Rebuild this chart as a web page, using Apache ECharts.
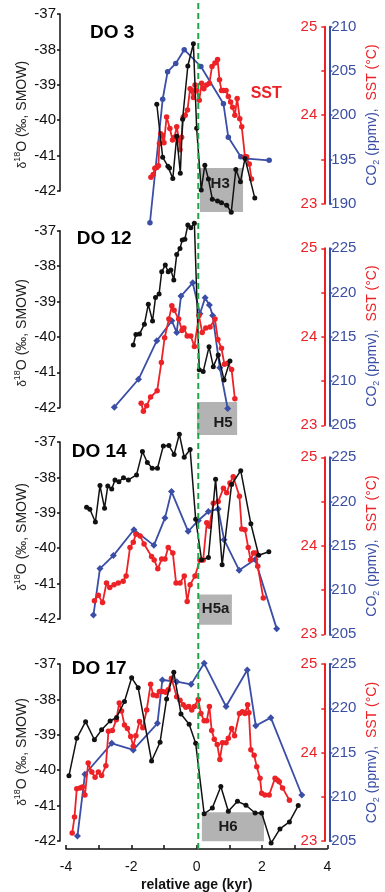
<!DOCTYPE html>
<html><head><meta charset="utf-8">
<script src="https://cdn.jsdelivr.net/npm/echarts@6.0.0/dist/echarts.min.js"></script>
<style>html,body{margin:0;padding:0;background:#fff;}#chart{width:385px;height:892px;}</style>
</head><body><div id="chart"></div>
<script>
// ---------------- data ----------------
const ageTickLabels = [-4, -2, 0, 2, 4];
const sstTickLabels = [23, 24, 25];
const panelNames = ['DO 3', 'DO 12', 'DO 14', 'DO 17'];
const heinrichNames = ['H3', 'H5', 'H5a', 'H6'];
const co2Ranges = [[190, 210], [205, 225], [205, 225], [205, 225]];
const onsetAge = 0.05;

// [relative age (kyr), d18O]
const do3_d18O = [[-1.22,-39.55],[-1.04,-41.05],[-0.88,-41.30],[-0.83,-41.35],[-0.73,-41.65],[-0.61,-40.45],[-0.50,-41.50],[-0.43,-39.97],[-0.27,-38.47],[-0.10,-37.84],[0.00,-40.23],[0.14,-41.97],[0.25,-41.27],[0.36,-41.66],[0.48,-42.23],[0.64,-42.28],[0.76,-42.33],[0.92,-42.40],[1.06,-42.60],[1.20,-41.39],[1.34,-41.74],[1.48,-41.08],[1.78,-42.20]];
const do3_sst = [[-1.40,23.30],[-1.33,23.33],[-1.28,23.40],[-1.22,23.41],[-1.17,23.43],[-1.14,23.68],[-1.10,23.79],[-1.05,23.77],[-1.00,23.69],[-0.92,23.98],[-0.82,23.85],[-0.74,23.72],[-0.68,23.75],[-0.61,23.87],[-0.54,23.72],[-0.51,23.61],[-0.46,23.75],[-0.41,23.98],[-0.35,24.00],[-0.28,24.06],[-0.20,24.30],[-0.15,24.28],[-0.10,24.20],[-0.05,24.34],[0.00,24.28],[0.08,24.17],[0.15,24.36],[0.22,24.30],[0.30,24.34],[0.39,24.36],[0.47,24.55],[0.56,24.59],[0.64,24.63],[0.70,24.40],[0.76,24.28],[0.82,24.28],[0.90,24.28],[0.97,24.21],[1.04,24.15],[1.10,24.09],[1.17,24.00],[1.24,24.19],[1.32,23.96],[1.38,23.87],[1.48,23.53],[1.53,23.53],[1.61,23.45],[1.68,23.28]];
const do3_co2 = [[-1.43,187.85],[-1.04,201.8],[-0.89,204.9],[-0.64,205.85],[-0.38,207.4],[0.13,205.5],[0.82,201.3],[0.97,197.5],[1.35,195.3],[1.53,195.1],[2.22,194.9]];

const do12_d18O = [[-1.94,-40.23],[-1.86,-39.93],[-1.75,-39.92],[-1.60,-39.64],[-1.48,-39.08],[-1.35,-39.55],[-1.26,-38.89],[-1.15,-38.79],[-1.07,-38.16],[-0.96,-37.97],[-0.87,-38.16],[-0.79,-38.11],[-0.70,-38.39],[-0.61,-37.67],[-0.51,-37.50],[-0.44,-37.26],[-0.36,-37.24],[-0.27,-36.84],[-0.18,-36.92],[-0.07,-36.79],[0.08,-40.93],[0.20,-40.98],[0.38,-40.28],[0.51,-40.84],[0.66,-40.51],[0.84,-41.22],[1.02,-40.68]];
const do12_sst = [[-1.70,23.25],[-1.63,23.16],[-1.53,23.22],[-1.41,23.32],[-1.21,23.39],[-1.08,23.71],[-0.98,23.99],[-0.85,24.20],[-0.76,24.35],[-0.69,24.30],[-0.55,24.20],[-0.45,24.07],[-0.39,24.10],[-0.29,24.01],[-0.18,24.01],[-0.07,23.89],[0.07,24.24],[0.17,24.05],[0.28,24.10],[0.41,24.11],[0.56,24.20],[0.65,23.97],[0.76,23.87],[0.85,23.69],[0.95,23.70],[1.07,23.63],[1.17,23.30]];
const do12_co2 = [[-2.52,207.05],[-1.78,210.2],[-1.22,214.56],[-0.76,216.8],[-0.61,215.5],[-0.48,219.6],[-0.12,221.1],[0.10,217.6],[0.26,219.4],[0.39,218.6],[0.49,217.4],[0.71,211.5],[0.95,206.9]];

const do14_d18O = [[-3.37,-38.84],[-3.27,-38.90],[-3.10,-39.26],[-2.96,-38.23],[-2.82,-38.87],[-2.72,-38.24],[-2.60,-38.33],[-2.50,-38.07],[-2.38,-38.12],[-2.24,-38.01],[-2.09,-38.07],[-1.84,-37.93],[-1.66,-37.27],[-1.51,-37.58],[-1.36,-37.74],[-1.20,-37.74],[-1.02,-37.11],[-0.85,-37.10],[-0.69,-37.35],[-0.53,-36.78],[-0.38,-37.43],[-0.20,-37.21],[-0.03,-39.18],[0.15,-40.33],[0.36,-40.26],[0.58,-38.05],[0.78,-40.47],[1.07,-38.20],[1.35,-37.81],[1.66,-39.31],[1.90,-40.20],[2.21,-40.10]];
const do14_sst = [[-3.13,23.38],[-3.01,23.44],[-2.88,23.36],[-2.76,23.58],[-2.66,23.53],[-2.53,23.56],[-2.40,23.58],[-2.25,23.60],[-2.16,23.66],[-2.04,23.98],[-1.94,24.04],[-1.86,24.13],[-1.73,24.11],[-1.61,24.02],[-1.38,23.88],[-1.30,23.84],[-1.19,23.74],[-1.07,23.85],[-0.97,23.85],[-0.87,23.98],[-0.73,23.92],[-0.63,23.58],[-0.51,23.58],[-0.38,23.66],[-0.29,23.37],[-0.20,23.56],[-0.05,23.66],[0.10,23.84],[0.20,23.84],[0.31,24.26],[0.39,24.22],[0.51,24.48],[0.66,24.50],[0.82,24.65],[0.92,24.60],[1.02,24.71],[1.12,24.78],[1.31,24.56],[1.38,24.19],[1.48,24.18],[1.58,23.98],[1.65,23.84],[1.74,23.92],[1.81,23.92],[1.87,23.77],[2.04,23.41]];
const do14_co2 = [[-3.16,207.17],[-2.96,212.43],[-2.55,213.89],[-1.92,216.82],[-1.31,215.05],[-0.97,218.13],[-0.77,221.13],[-0.26,216.63],[0.05,217.86],[0.36,218.88],[0.66,219.15],[0.84,215.69],[1.30,212.24],[1.79,213.44],[2.45,205.64]];

const do17_d18O = [[-3.91,-40.16],[-3.67,-39.10],[-3.40,-38.63],[-3.13,-39.14],[-2.91,-38.86],[-2.65,-38.61],[-2.45,-38.51],[-2.21,-38.06],[-1.99,-37.39],[-1.79,-37.67],[-1.38,-39.74],[-1.12,-39.21],[-0.92,-37.99],[-0.70,-37.23],[-0.48,-38.41],[-0.23,-38.70],[-0.03,-39.24],[0.23,-41.23],[0.48,-41.07],[0.74,-40.46],[0.97,-41.16],[1.25,-40.88],[1.51,-40.99],[1.79,-41.21],[1.99,-41.21],[2.28,-42.06],[2.55,-41.66],[2.84,-41.46],[3.11,-41.00]];
const do17_sst = [[-3.81,23.09],[-3.74,23.27],[-3.67,23.59],[-3.57,23.60],[-3.50,23.61],[-3.42,23.52],[-3.32,23.88],[-3.21,23.78],[-3.11,23.72],[-3.01,23.78],[-2.91,23.74],[-2.78,23.85],[-2.70,24.24],[-2.58,24.25],[-2.46,24.37],[-2.37,24.56],[-2.30,24.47],[-2.21,24.31],[-2.12,24.27],[-2.02,24.18],[-1.94,24.07],[-1.86,24.19],[-1.75,24.35],[-1.65,24.28],[-1.53,24.48],[-1.41,24.77],[-1.33,24.65],[-1.22,24.64],[-1.14,24.69],[-1.04,24.69],[-0.95,24.68],[-0.87,24.71],[-0.77,24.84],[-0.61,24.63],[-0.51,24.59],[-0.41,24.54],[-0.33,24.51],[-0.24,24.52],[-0.15,24.48],[-0.07,24.52],[0.05,24.60],[0.13,24.44],[0.23,24.36],[0.31,24.36],[0.39,24.52],[0.46,24.25],[0.54,24.15],[0.63,24.09],[0.71,23.92],[0.79,24.11],[0.90,24.11],[0.97,24.16],[1.07,24.27],[1.16,24.19],[1.31,24.44],[1.40,24.46],[1.48,24.44],[1.56,24.54],[1.60,24.45],[1.66,24.03],[1.76,23.97],[1.84,23.84],[1.94,23.71],[1.99,23.54],[2.09,23.52],[2.22,23.52],[2.40,23.71],[2.47,23.69],[2.53,23.67],[2.63,23.60],[2.84,23.46]];
const do17_co2 = [[-3.65,205.56],[-3.42,212.54],[-2.60,216.04],[-1.94,215.29],[-1.20,218.30],[-1.05,223.19],[-0.61,223.0],[-0.17,222.7],[0.23,225.08],[0.90,220.2],[1.55,224.32],[1.81,218.03],[2.27,218.94],[3.22,210.2]];

// Heinrich boxes: [age0, age1, d18O top, d18O bottom, label age, label d18O]
const heinrichBoxes = [
  [0.10, 1.42, -41.35, -42.59, 0.72, -41.80],
  [0.01, 1.24, -41.84, -42.77, 0.81, -42.43],
  [0.07, 1.08, -41.31, -42.16, 0.58, -41.71],
  [0.16, 2.06, -41.19, -42.01, 0.96, -41.61]
];

const d18OSeries = [do3_d18O, do12_d18O, do14_d18O, do17_d18O];
const sstSeries = [do3_sst, do12_sst, do14_sst, do17_sst];
const co2Series = [do3_co2, do12_co2, do14_co2, do17_co2];

// ---------------- layout / style ----------------
const FONT = '"Liberation Sans", Arial, Helvetica, sans-serif';
const BLACK = '#111111', RED = '#ec2227', BLUE = '#3a4ea5', GREEN = '#1fa54a';
const leftTops = [14, 230.7, 442, 664];
const rightTops = [26.7, 248.3, 457.3, 664];
const PH = 177;
const GL = 66, GW = 261.3;

const grids = [], xAxes = [], yAxes = [], series = [], graphics = [];

for (let i = 0; i < 4; i++) {
  const last = i === 3;
  grids.push({left: GL, width: GW, top: leftTops[i], height: PH, outerBoundsMode: 'none'});
  grids.push({left: GL, width: GW, top: rightTops[i], height: PH, outerBoundsMode: 'none'});
  xAxes.push({
    type: 'value', gridIndex: 2 * i, min: -4, max: 4, interval: 1, show: last,
    position: 'bottom', offset: 8,
    axisLine: {show: true, onZero: false, lineStyle: {color: BLACK, width: 1.5}},
    axisTick: {show: true, inside: true, length: 4, lineStyle: {color: BLACK, width: 1.5}},
    axisLabel: {color: BLACK, fontSize: 14, fontFamily: FONT, margin: 11,
      formatter: v => ageTickLabels.includes(v) ? String(v) : ''},
    splitLine: {show: false},
    name: last ? 'relative age (kyr)' : '', nameLocation: 'middle', nameGap: 29,
    nameTextStyle: {color: BLACK, fontSize: 14, fontWeight: 'bold', fontFamily: FONT}
  });
  xAxes.push({type: 'value', gridIndex: 2 * i + 1, min: -4, max: 4, show: false, axisLine: {onZero: false}});
  yAxes.push({
    type: 'value', gridIndex: 2 * i, min: -42, max: -37, interval: 1, position: 'left', offset: 6,
    axisLine: {show: true, onZero: false, lineStyle: {color: BLACK, width: 1.5}},
    axisTick: {show: true, length: 3, lineStyle: {color: BLACK, width: 1.5}},
    axisLabel: {color: BLACK, fontSize: 15, fontFamily: FONT, margin: 4},
    splitLine: {show: false}
  });
  yAxes.push({
    type: 'value', gridIndex: 2 * i + 1, min: 23, max: 25, interval: 0.5, position: 'right', offset: -3,
    axisLine: {show: true, onZero: false, lineStyle: {color: RED, width: 2}},
    axisTick: {show: true, inside: true, length: 3, lineStyle: {color: RED, width: 1.5}},
    axisLabel: {inside: true, color: RED, fontSize: 15, fontFamily: FONT, margin: 7,
      formatter: v => sstTickLabels.includes(v) ? String(v) : ''},
    splitLine: {show: false}
  });
  yAxes.push({
    type: 'value', gridIndex: 2 * i + 1, min: co2Ranges[i][0], max: co2Ranges[i][1], interval: 5,
    position: 'right', offset: 2,
    axisLine: {show: true, onZero: false, lineStyle: {color: BLUE, width: 2}},
    axisTick: {show: true, length: 3, lineStyle: {color: BLUE, width: 1.5}},
    axisLabel: {color: BLUE, fontSize: 15, fontFamily: FONT, margin: 2},
    splitLine: {show: false}
  });

  // Heinrich box
  series.push({
    type: 'custom', xAxisIndex: 2 * i, yAxisIndex: 3 * i, clip: false, z: 1, silent: true,
    dimensions: ['x0', 'x1', 'y0', 'y1', 'lx', 'ly'],
    encode: {x: ['x0', 'x1', 'lx'], y: ['y0', 'y1', 'ly']},
    data: [heinrichBoxes[i]],
    renderItem: (params, api) => {
      const p0 = api.coord([api.value(0), api.value(2)]);
      const p1 = api.coord([api.value(1), api.value(3)]);
      const pl = api.coord([api.value(4), api.value(5)]);
      return {type: 'group', children: [
        {type: 'rect', shape: {x: p0[0], y: p0[1], width: p1[0] - p0[0], height: p1[1] - p0[1]},
          style: {fill: '#b3b3b3'}},
        {type: 'text', x: pl[0], y: pl[1], style: {text: heinrichNames[i], fill: '#1a1a1a',
          font: 'bold 15px ' + FONT, align: 'center', verticalAlign: 'middle'}}
      ]};
    }
  });
  const mk = (data, xi, yi, color, symbol, size, width, z) => ({
    type: 'line', xAxisIndex: xi, yAxisIndex: yi, data: data, clip: false,
    symbol: symbol, symbolSize: size, showSymbol: true, showAllSymbol: true,
    lineStyle: {color: color, width: width}, itemStyle: {color: color, borderWidth: 0},
    z: z, silent: true, animation: false
  });
  series.push(mk(co2Series[i], 2 * i + 1, 3 * i + 2, BLUE, i === 0 ? 'circle' : 'diamond', i === 0 ? 5.5 : 7, 1.8, 2));
  series.push(mk(sstSeries[i], 2 * i + 1, 3 * i + 1, RED, 'circle', 5.5, 1.8, 3));
  series.push(mk(d18OSeries[i], 2 * i, 3 * i, BLACK, 'circle', 5, 1.5, 4));
}

// Onset line grid
grids.push({left: GL, width: GW, top: 0, height: 849, outerBoundsMode: 'none'});
xAxes.push({type: 'value', gridIndex: 8, min: -4, max: 4, show: false, axisLine: {onZero: false}});
yAxes.push({type: 'value', gridIndex: 8, min: 0, max: 1, show: false, axisLine: {onZero: false}});
series.push({
  type: 'line', xAxisIndex: 8, yAxisIndex: 12, data: [[onsetAge, 0], [onsetAge, 1]],
  symbol: 'none', lineStyle: {color: GREEN, width: 2, type: [6, 4]}, z: 10, silent: true, clip: false
});

// texts
const doPos = [[90, 33], [76.7, 239], [71.7, 451.7], [71.7, 668.3]];
const leftTitleY = [114.7, 333, 537, 752];
const rightTitleY = [115, 336, 546, 752.5];
for (let i = 0; i < 4; i++) {
  graphics.push({type: 'text', x: doPos[i][0], y: doPos[i][1], z: 20,
    style: {text: panelNames[i], fill: '#000', font: 'bold 19px ' + FONT, align: 'left', verticalAlign: 'middle'}});
  graphics.push({type: 'text', x: 21, y: leftTitleY[i], rotation: Math.PI / 2, z: 20,
    style: {text: '{d|δ}{s|18}{a|O (‰, SMOW)}', align: 'center', verticalAlign: 'middle',
      fill: '#222', font: '14px ' + FONT,
      rich: {
        d: {fontSize: 12, fontFamily: FONT, fill: '#222', lineHeight: 16, verticalAlign: 'bottom'},
        s: {fontSize: 9, fontFamily: FONT, fill: '#222', lineHeight: 9, verticalAlign: 'top'},
        a: {fontSize: 14, fontFamily: FONT, fill: '#222', lineHeight: 16, verticalAlign: 'bottom'}
      }}});
  graphics.push({type: 'text', x: 373.5, y: rightTitleY[i], rotation: Math.PI / 2, z: 20,
    style: {text: '{b|CO}{bs|2}{b| (ppmv),  }{r|SST (°C)}', align: 'center', verticalAlign: 'middle',
      font: '14px ' + FONT, fill: BLUE,
      rich: {
        b: {fontSize: 14, fontFamily: FONT, fill: BLUE, lineHeight: 16, verticalAlign: 'top'},
        bs: {fontSize: 9, fontFamily: FONT, fill: BLUE, lineHeight: 9, verticalAlign: 'bottom'},
        r: {fontSize: 14, fontFamily: FONT, fill: RED, lineHeight: 16, verticalAlign: 'top'}
      }}});
}
graphics.push({type: 'text', x: 250.7, y: 94, z: 20,
  style: {text: 'SST', fill: RED, font: 'bold 16px ' + FONT, align: 'left', verticalAlign: 'middle'}});

const chart = echarts.init(document.getElementById('chart'), null, {renderer: 'canvas'});
chart.setOption({
  animation: false,
  backgroundColor: '#ffffff',
  textStyle: {fontFamily: FONT},
  grid: grids, xAxis: xAxes, yAxis: yAxes, series: series, graphic: graphics
});
</script>
</body></html>
